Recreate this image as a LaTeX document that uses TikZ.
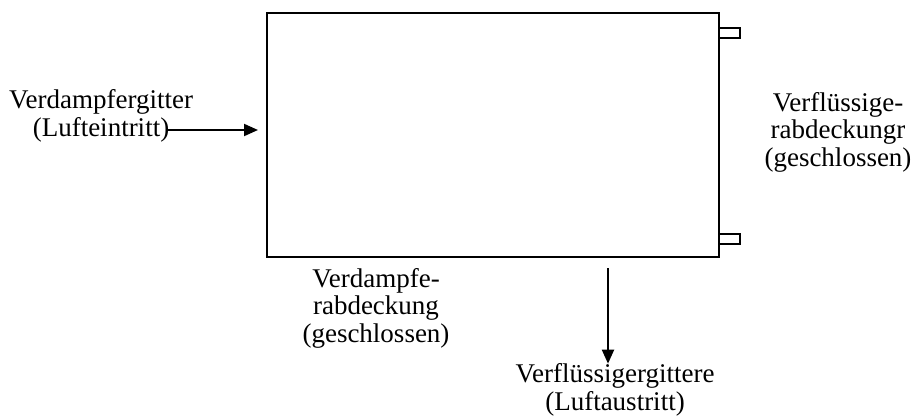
\documentclass[tikz,border=0pt]{standalone}
\usepackage{fontspec}
\setmainfont{Liberation Serif}
\usetikzlibrary{arrows.meta}
\begin{document}
\begin{tikzpicture}[x=1pt,y=-1pt,
  lbl/.style={align=center,inner sep=0pt,font=\fontsize{27}{27.5}\selectfont},
  conn/.style={line width=2pt,-{Triangle[length=14pt,width=12pt]}},
  edge/.style={line width=2pt}]
\useasboundingbox (0,0) rectangle (911,418);
\node[edge,draw,minimum width=452pt,minimum height=244pt,inner sep=0pt,anchor=north west] (box) at (266,12) {};
\node[edge,draw,minimum width=21pt,minimum height=10pt,inner sep=0pt,anchor=west] (tab1) at (718,33) {};
\node[edge,draw,minimum width=21pt,minimum height=10pt,inner sep=0pt,anchor=west] (tab2) at (718,239) {};
\node[lbl] (lin) at (101,116) {Verdampfergitter\\(Lufteintritt)};
\node[lbl] (rcov) at (838,132) {Verflüssige-\\rabdeckungr\\(geschlossen)};
\node[lbl] (bcov) at (376,308) {Verdampfe-\\rabdeckung\\(geschlossen)};
\node[lbl] (lout) at (615,390) {Verflüssigergittere\\(Luftaustritt)};
\coordinate (a1) at (166,130);
\coordinate (a2) at (608,268);
\draw[conn,shorten >=8pt] (a1) -- (a1 -| box.west);
\draw[conn] (a2) -- (a2 |- lout.north);
\end{tikzpicture}
\end{document}
